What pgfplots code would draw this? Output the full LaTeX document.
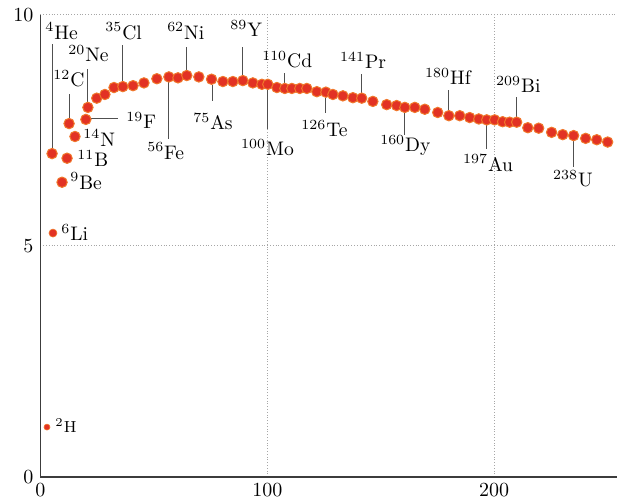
\documentclass[border=0pt]{standalone}
\usepackage{pgfplots}
\pgfplotsset{compat=1.18}
\definecolor{dotfill}{RGB}{226,50,36}
\definecolor{dotdraw}{RGB}{240,120,44}
\definecolor{leader}{RGB}{80,80,80}
\definecolor{axisc}{RGB}{60,60,60}
\tikzset{lbl/.style={anchor=base west, inner sep=0pt, font=\fontsize{9.8}{11}\selectfont},
  ld/.style={leader, line width=0.5pt}}
\begin{document}
\begin{tikzpicture}
\begin{axis}[name=ax, scale only axis, width=289.25pt, height=231pt,
  xmin=0, xmax=255, ymin=0, ymax=10,
  axis x line=bottom, axis y line=left,
  axis line style={-, line width=0.9pt, draw=axisc},
  xtick={0,100,200}, ytick={0,5,10},
  major tick length=0pt,
  grid=major, grid style={densely dotted, gray!70, line width=0.5pt},
  tick label style={font=\fontsize{10}{12}\selectfont},
  clip=false]
% leader lines
\draw[ld] (axis cs:5.07,7.12) -- (axis cs:5.07,9.375);
\draw[ld] (axis cs:20.9,8.12) -- (axis cs:20.9,8.84);
\draw[ld] (axis cs:12.6,7.77) -- (axis cs:12.6,8.30);
\draw[ld] (axis cs:36.3,8.57) -- (axis cs:36.3,9.35);
\draw[ld] (axis cs:64.5,8.81) -- (axis cs:64.5,9.31);
\draw[ld] (axis cs:21.2,7.76) -- (axis cs:34.1,7.76);
\draw[ld] (axis cs:56.6,8.54) -- (axis cs:56.6,7.31);
\draw[ld] (axis cs:75.6,8.49) -- (axis cs:75.6,8.13);
\draw[ld] (axis cs:89.2,8.70) -- (axis cs:89.2,9.31);
\draw[ld] (axis cs:100.2,8.38) -- (axis cs:100.2,7.54);
\draw[ld] (axis cs:107.7,8.53) -- (axis cs:107.7,8.75);
\draw[ld] (axis cs:125.8,8.21) -- (axis cs:125.8,7.87);
\draw[ld] (axis cs:141.6,8.32) -- (axis cs:141.6,8.73);
\draw[ld] (axis cs:160.6,7.88) -- (axis cs:160.6,7.41);
\draw[ld] (axis cs:180.0,7.94) -- (axis cs:180.0,8.38);
\draw[ld] (axis cs:209.9,7.80) -- (axis cs:209.9,8.23);
\draw[ld] (axis cs:196.7,7.61) -- (axis cs:196.7,7.09);
\draw[ld] (axis cs:235.0,7.27) -- (axis cs:235.0,6.72);
% data
\addplot[only marks, mark=*, mark size=1.5pt, mark options={fill=dotfill, draw=dotdraw, line width=0.3pt}] coordinates {(2.86,1.08)};
\addplot[only marks, mark=*, mark size=2.0pt, mark options={fill=dotfill, draw=dotdraw, line width=0.3pt}] coordinates {(5.5,5.28)};
\addplot[only marks, mark=*, mark size=2.6pt, mark options={fill=dotfill, draw=dotdraw, line width=0.5pt}] coordinates {
(5.1,7.00) (9.5,6.38) (11.7,6.90) (12.6,7.65) (15.2,7.37) (20.0,7.74) (20.9,8.00)
(24.8,8.20) (28.4,8.28) (32.4,8.43) (36.3,8.45) (40.8,8.47) (45.6,8.53) (51.3,8.62)
(56.6,8.66) (60.6,8.64) (64.5,8.69) (69.8,8.66) (75.4,8.61) (80.4,8.56) (84.8,8.56)
(89.2,8.58) (93.6,8.53) (97.6,8.50) (100.2,8.50) (104.2,8.43) (107.7,8.41) (110.8,8.41)
(114.3,8.41) (117.4,8.41) (121.8,8.34) (125.8,8.33) (128.9,8.28) (133.3,8.25) (137.7,8.21)
(141.6,8.20) (146.5,8.13) (152.6,8.06) (157.0,8.04) (160.6,8.00) (165.0,8.00) (169.4,7.96)
(175.1,7.89) (180.0,7.82) (184.8,7.82) (189.2,7.78) (193.2,7.75) (196.7,7.73) (200.2,7.73)
(203.7,7.69) (206.8,7.68) (209.9,7.68) (214.8,7.56) (219.6,7.55) (225.3,7.46) (230.2,7.41)
(235.0,7.39) (240.3,7.33) (245.2,7.30) (250.0,7.25)};
% labels
\node[lbl] at (axis cs:1.98,9.48) {$^{4}$He};
\node[lbl] at (axis cs:12.1,8.99) {$^{20}$Ne};
\node[lbl] at (axis cs:5.5,8.45) {$^{12}$C};
\node[lbl] at (axis cs:28.4,9.48) {$^{35}$Cl};
\node[lbl] at (axis cs:55.7,9.48) {$^{62}$Ni};
\node[lbl] at (axis cs:37.7,7.54) {$^{19}$F};
\node[lbl] at (axis cs:18.7,7.16) {$^{14}$N};
\node[lbl] at (axis cs:16.1,6.72) {$^{11}$B};
\node[lbl] at (axis cs:13.0,6.23) {$^{9}$Be};
\node[lbl] at (axis cs:9.0,5.11) {$^{6}$Li};
\node[lbl, font=\fontsize{8}{10}\selectfont] at (axis cs:6.4,0.97) {$^{2}$H};
\node[lbl] at (axis cs:46.9,6.88) {$^{56}$Fe};
\node[lbl] at (axis cs:67.2,7.52) {$^{75}$As};
\node[lbl] at (axis cs:83.5,9.53) {$^{89}$Y};
\node[lbl] at (axis cs:88.3,6.96) {$^{100}$Mo};
\node[lbl] at (axis cs:97.6,8.86) {$^{110}$Cd};
\node[lbl] at (axis cs:114.8,7.37) {$^{126}$Te};
\node[lbl] at (axis cs:131.9,8.84) {$^{141}$Pr};
\node[lbl] at (axis cs:149.6,7.05) {$^{160}$Dy};
\node[lbl] at (axis cs:169.4,8.49) {$^{180}$Hf};
\node[lbl] at (axis cs:200.7,8.32) {$^{209}$Bi};
\node[lbl] at (axis cs:186.1,6.62) {$^{197}$Au};
\node[lbl] at (axis cs:225.8,6.29) {$^{238}$U};
\end{axis}
\pgfresetboundingbox
\path[use as bounding box] ([shift={(-20.25pt,-13.5pt)}]ax.south west) rectangle ([shift={(-1pt,7.5pt)}]ax.north east);
\end{tikzpicture}
\end{document}
